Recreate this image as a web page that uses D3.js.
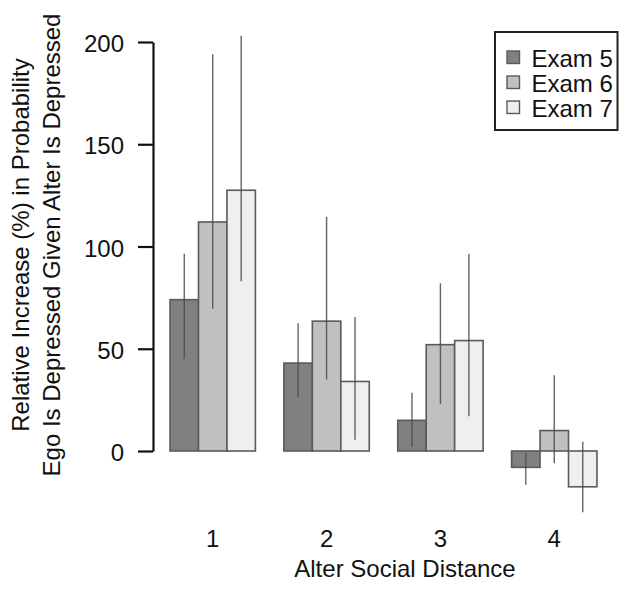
<!DOCTYPE html>
<html>
<head>
<meta charset="utf-8">
<script src="https://cdn.jsdelivr.net/npm/d3@7"></script>
<style>
  html, body { margin: 0; padding: 0; background: #fff; }
  svg { display: block; font-family: "Liberation Sans", Arial, Helvetica, sans-serif; }
</style>
</head>
<body>
<svg id="chart" width="619" height="590"></svg>
<script>
// ---- data ----
const categories = ["1", "2", "3", "4"];
const seriesNames = ["Exam 5", "Exam 6", "Exam 7"];
const exam5 = [74, 43, 15, -8];
const exam6 = [112, 63.5, 52, 10];
const exam7 = [127.5, 34, 54, -17.5];
const exam5Lower = [45, 26, 2, -16.5];
const exam5Upper = [96.5, 62.5, 28.5, -1];
const exam6Lower = [69.5, 35, 23, -6];
const exam6Upper = [194, 114.5, 82, 37];
const exam7Lower = [83, 5.5, 17, -30];
const exam7Upper = [203, 65.5, 96.5, 4.5];
const yTicks = [0, 50, 100, 150, 200];
const fills = ["#808080", "#c0c0c0", "#efefef"];

const values = [exam5, exam6, exam7];
const lowers = [exam5Lower, exam6Lower, exam7Lower];
const uppers = [exam5Upper, exam6Upper, exam7Upper];

const rows = [];
categories.forEach((c, gi) => {
  seriesNames.forEach((s, si) => {
    rows.push({cat: c, series: s, si: si, v: values[si][gi], lo: lowers[si][gi], hi: uppers[si][gi]});
  });
});

const svg = d3.select("#chart");
const FONT = 24;

const x0 = d3.scaleBand().domain(categories).range([155.8, 611.2]).paddingInner(0.25).paddingOuter(0.125);
const x1 = d3.scaleBand().domain(seriesNames).range([0, x0.bandwidth()]);
const y = d3.scaleLinear().domain([0, 200]).range([451, 42]);

// bars
svg.append("g").selectAll("rect").data(rows).join("rect")
  .attr("x", d => x0(d.cat) + x1(d.series))
  .attr("width", x1.bandwidth())
  .attr("y", d => y(Math.max(0, d.v)))
  .attr("height", d => Math.abs(y(d.v) - y(0)))
  .attr("fill", d => fills[d.si])
  .attr("stroke", "#5a5a5a")
  .attr("stroke-width", 1.6);

// error bars
svg.append("g").selectAll("line").data(rows).join("line")
  .attr("x1", d => x0(d.cat) + x1(d.series) + x1.bandwidth() / 2)
  .attr("x2", d => x0(d.cat) + x1(d.series) + x1.bandwidth() / 2)
  .attr("y1", d => y(d.lo))
  .attr("y2", d => y(d.hi))
  .attr("stroke", "#4a4a4a")
  .attr("stroke-opacity", 0.85)
  .attr("stroke-width", 1.4);

// y axis
const yAxis = svg.append("g")
  .attr("transform", "translate(153,0)")
  .call(d3.axisLeft(y).tickValues(yTicks).tickSize(15).tickSizeOuter(0).tickPadding(14).tickFormat(d3.format("d")));
yAxis.select(".domain").attr("stroke", "#111").attr("stroke-width", 2.2);
yAxis.selectAll(".tick line").attr("stroke", "#111").attr("stroke-width", 2.2);
yAxis.selectAll(".tick text")
  .attr("font-size", FONT)
  .attr("font-family", "'Liberation Sans', Arial, Helvetica, sans-serif")
  .attr("fill", "#111")
  .attr("dy", "0.4em");

// x category labels
const xAxis = svg.append("g")
  .attr("transform", "translate(0,547)");
xAxis.selectAll("text").data(categories).join("text")
  .attr("x", d => x0(d) + x0.bandwidth() / 2)
  .attr("y", 0)
  .attr("text-anchor", "middle")
  .attr("font-size", FONT)
  .attr("fill", "#111")
  .text(d => d);

// x title
svg.append("text")
  .attr("x", 405).attr("y", 577)
  .attr("text-anchor", "middle")
  .attr("font-size", FONT)
  .attr("fill", "#111")
  .text("Alter Social Distance");

// y title (two lines)
const yTitle = svg.append("g").attr("transform", "translate(0,245) rotate(-90)");
yTitle.append("text")
  .attr("x", 0).attr("y", 28.5)
  .attr("text-anchor", "middle")
  .attr("font-size", FONT)
  .attr("fill", "#111")
  .text("Relative Increase (%) in Probability");
yTitle.append("text")
  .attr("x", 0).attr("y", 59.5)
  .attr("text-anchor", "middle")
  .attr("font-size", FONT)
  .attr("fill", "#111")
  .text("Ego Is Depressed Given Alter Is Depressed");

// legend
const legend = svg.append("g");
legend.append("rect")
  .attr("x", 495).attr("y", 32)
  .attr("width", 122.5).attr("height", 98)
  .attr("fill", "#fff")
  .attr("stroke", "#222")
  .attr("stroke-width", 2);
const li = legend.selectAll("g.item").data(seriesNames).join("g").attr("class", "item")
  .attr("transform", (d, i) => `translate(0, ${66.5 + i * 25})`);
li.append("rect")
  .attr("x", 507).attr("y", -15.5)
  .attr("width", 12.5).attr("height", 12.5)
  .attr("fill", (d, i) => fills[i])
  .attr("stroke", "#5a5a5a")
  .attr("stroke-width", 1.4);
li.append("text")
  .attr("x", 531.5).attr("y", 0)
  .attr("font-size", FONT)
  .attr("fill", "#111")
  .text(d => d);
</script>
</body>
</html>
